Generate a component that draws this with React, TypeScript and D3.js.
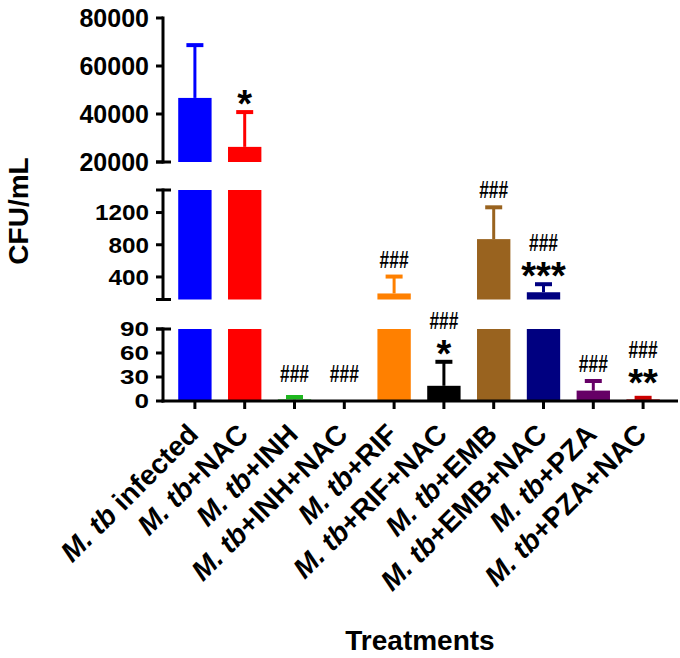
import React from "react";
import * as d3 from "d3";

// CFU/mL per treatment (mean, SD)
const treatments = [
  "M. tb infected",
  "M. tb+NAC",
  "M. tb+INH",
  "M. tb+INH+NAC",
  "M. tb+RIF",
  "M. tb+RIF+NAC",
  "M. tb+EMB",
  "M. tb+EMB+NAC",
  "M. tb+PZA",
  "M. tb+PZA+NAC",
];
const means = [46700, 26300, 2, 0, 195, 19, 870, 210, 13, 2];
const sds = [22000, 14500, 3, 0, 210, 30, 395, 100, 12, 2];
const barColors = [
  "#0000ff",
  "#ff0000",
  "#1fb81f",
  "#7f7f7f",
  "#ff8000",
  "#000000",
  "#99631f",
  "#000080",
  "#660066",
  "#cc0000",
];
const hashMarks = ["", "", "###", "###", "###", "###", "###", "###", "###", "###"];
const starMarks = ["", "*", "", "", "", "*", "", "***", "", "**"];

const topTicks = [20000, 40000, 60000, 80000];
const midTicks = [400, 800, 1200];
const lowTicks = [0, 30, 60, 90];

const W = 680;
const H = 658;
const axisX = 163;
const baseY = 401;
const font = "Arial, 'Liberation Sans', sans-serif";
const species = "M. tb";

const x = d3
  .scaleBand()
  .domain(treatments)
  .range([170, 668])
  .paddingInner(0.33)
  .paddingOuter(0.165);

// broken y axis: three stacked segments (digitW stretches the squat labels)
const segments = [
  { y: d3.scaleLinear().domain([20000, 80000]).range([162, 18]), ticks: topTicks, fs: 25, digitW: 0, capTop: false, capBottom: true },
  { y: d3.scaleLinear().domain([120, 1480]).range([299.5, 190]), ticks: midTicks, fs: 22, digitW: 13.5, capTop: true, capBottom: true },
  { y: d3.scaleLinear().domain([0, 90]).range([baseY, 329]), ticks: lowTicks, fs: 20, digitW: 14.5, capTop: true, capBottom: false },
];

const yOf = (v: number) => {
  for (const s of segments) {
    const [d0, d1] = s.y.domain();
    if (v >= d0 && v <= d1) return s.y(v);
  }
  return segments[2].y(Math.max(0, v));
};

export default function App() {
  return (
    <svg
      width={W}
      height={H}
      style={{ position: "absolute", left: 0, top: 0, background: "#fff" }}
      fontFamily={font}
    >
      {segments.map((s, si) => {
        const [d0, d1] = s.y.domain();
        return (
          <g key={si}>
            {/* bars clipped to this segment */}
            {treatments.map((t, i) => {
              const m = means[i];
              if (m <= d0) return null;
              const top = s.y(Math.min(m, d1));
              return (
                <rect
                  key={t}
                  x={x(t)}
                  y={top}
                  width={x.bandwidth()}
                  height={s.y(d0) - top}
                  fill={barColors[i]}
                />
              );
            })}
            {/* error bars */}
            {treatments.map((t, i) => {
              const m = means[i];
              const hi = m + sds[i];
              if (sds[i] <= 0 || hi <= d0 || m >= d1) return null;
              const cx = x(t)! + x.bandwidth() / 2;
              const y1 = s.y(Math.max(m, d0));
              const y2 = s.y(Math.min(hi, d1));
              const showCap = hi >= d0 && hi <= d1;
              return (
                <g key={t} stroke={barColors[i]}>
                  <line x1={cx} x2={cx} y1={y1} y2={y2} strokeWidth={3} />
                  {showCap && (
                    <line x1={cx - 8.5} x2={cx + 8.5} y1={y2} y2={y2} strokeWidth={4} />
                  )}
                </g>
              );
            })}
            {/* axis segment */}
            <g stroke="#000" strokeWidth={3}>
              <line x1={axisX} x2={axisX} y1={s.y(d0) + 1.5} y2={s.y(d1) - 1.5} />
              {s.ticks.map((tk) => (
                <line key={tk} x1={axisX - 7} x2={axisX} y1={s.y(tk)} y2={s.y(tk)} />
              ))}
              {s.capTop && <line x1={axisX - 7} x2={axisX + 8} y1={s.y(d1)} y2={s.y(d1)} />}
              {s.capBottom && <line x1={axisX - 7} x2={axisX + 8} y1={s.y(d0)} y2={s.y(d0)} />}
            </g>
            {s.ticks.map((tk) => (
              <text
                key={tk}
                x={axisX - 14}
                y={s.y(tk)}
                dy="0.36em"
                textAnchor="end"
                fontSize={s.fs}
                fontWeight="bold"
                textLength={s.digitW ? String(tk).length * s.digitW : undefined}
                lengthAdjust={s.digitW ? "spacingAndGlyphs" : undefined}
              >
                {tk}
              </text>
            ))}
          </g>
        );
      })}

      {/* x axis */}
      <g stroke="#000" strokeWidth={3}>
        <line x1={axisX - 1.5} x2={678} y1={baseY} y2={baseY} />
        {treatments.map((t) => {
          const cx = x(t)! + x.bandwidth() / 2;
          return <line key={t} x1={cx} x2={cx} y1={baseY} y2={baseY + 8} />;
        })}
      </g>

      {/* significance marks */}
      {treatments.map((t, i) => {
        const cx = x(t)! + x.bandwidth() / 2;
        const capY = yOf(means[i] + sds[i]);
        const first = Math.min(capY - 17, baseY - 27);
        const hasStar = starMarks[i] !== "";
        const hashY = hasStar ? first - 24 : first;
        return (
          <g key={t} fill="#000" fontWeight="bold">
            {hasStar && (
              <text x={cx} y={first + 22} textAnchor="middle" fontSize={38}>
                {starMarks[i]}
              </text>
            )}
            {hashMarks[i] && (
              <text
                x={cx}
                y={hashY + 8}
                textAnchor="middle"
                fontSize={23}
                textLength={29}
                lengthAdjust="spacingAndGlyphs"
              >
                {hashMarks[i]}
              </text>
            )}
          </g>
        );
      })}

      {/* category labels: species name in italics */}
      {treatments.map((t) => {
        const cx = x(t)! + x.bandwidth() / 2;
        return (
          <text
            key={t}
            transform={`translate(${cx + 5},${baseY + 35}) rotate(-45)`}
            textAnchor="end"
            fontSize={28}
            fontWeight="bold"
          >
            <tspan fontStyle="italic">{species}</tspan>
            <tspan>{t.slice(species.length)}</tspan>
          </text>
        );
      })}

      <text
        transform={`translate(28,211) rotate(-90)`}
        textAnchor="middle"
        fontSize={28}
        fontWeight="bold"
      >
        CFU/mL
      </text>
      <text x={420} y={650} textAnchor="middle" fontSize={28} fontWeight="bold">
        Treatments
      </text>
    </svg>
  );
}
